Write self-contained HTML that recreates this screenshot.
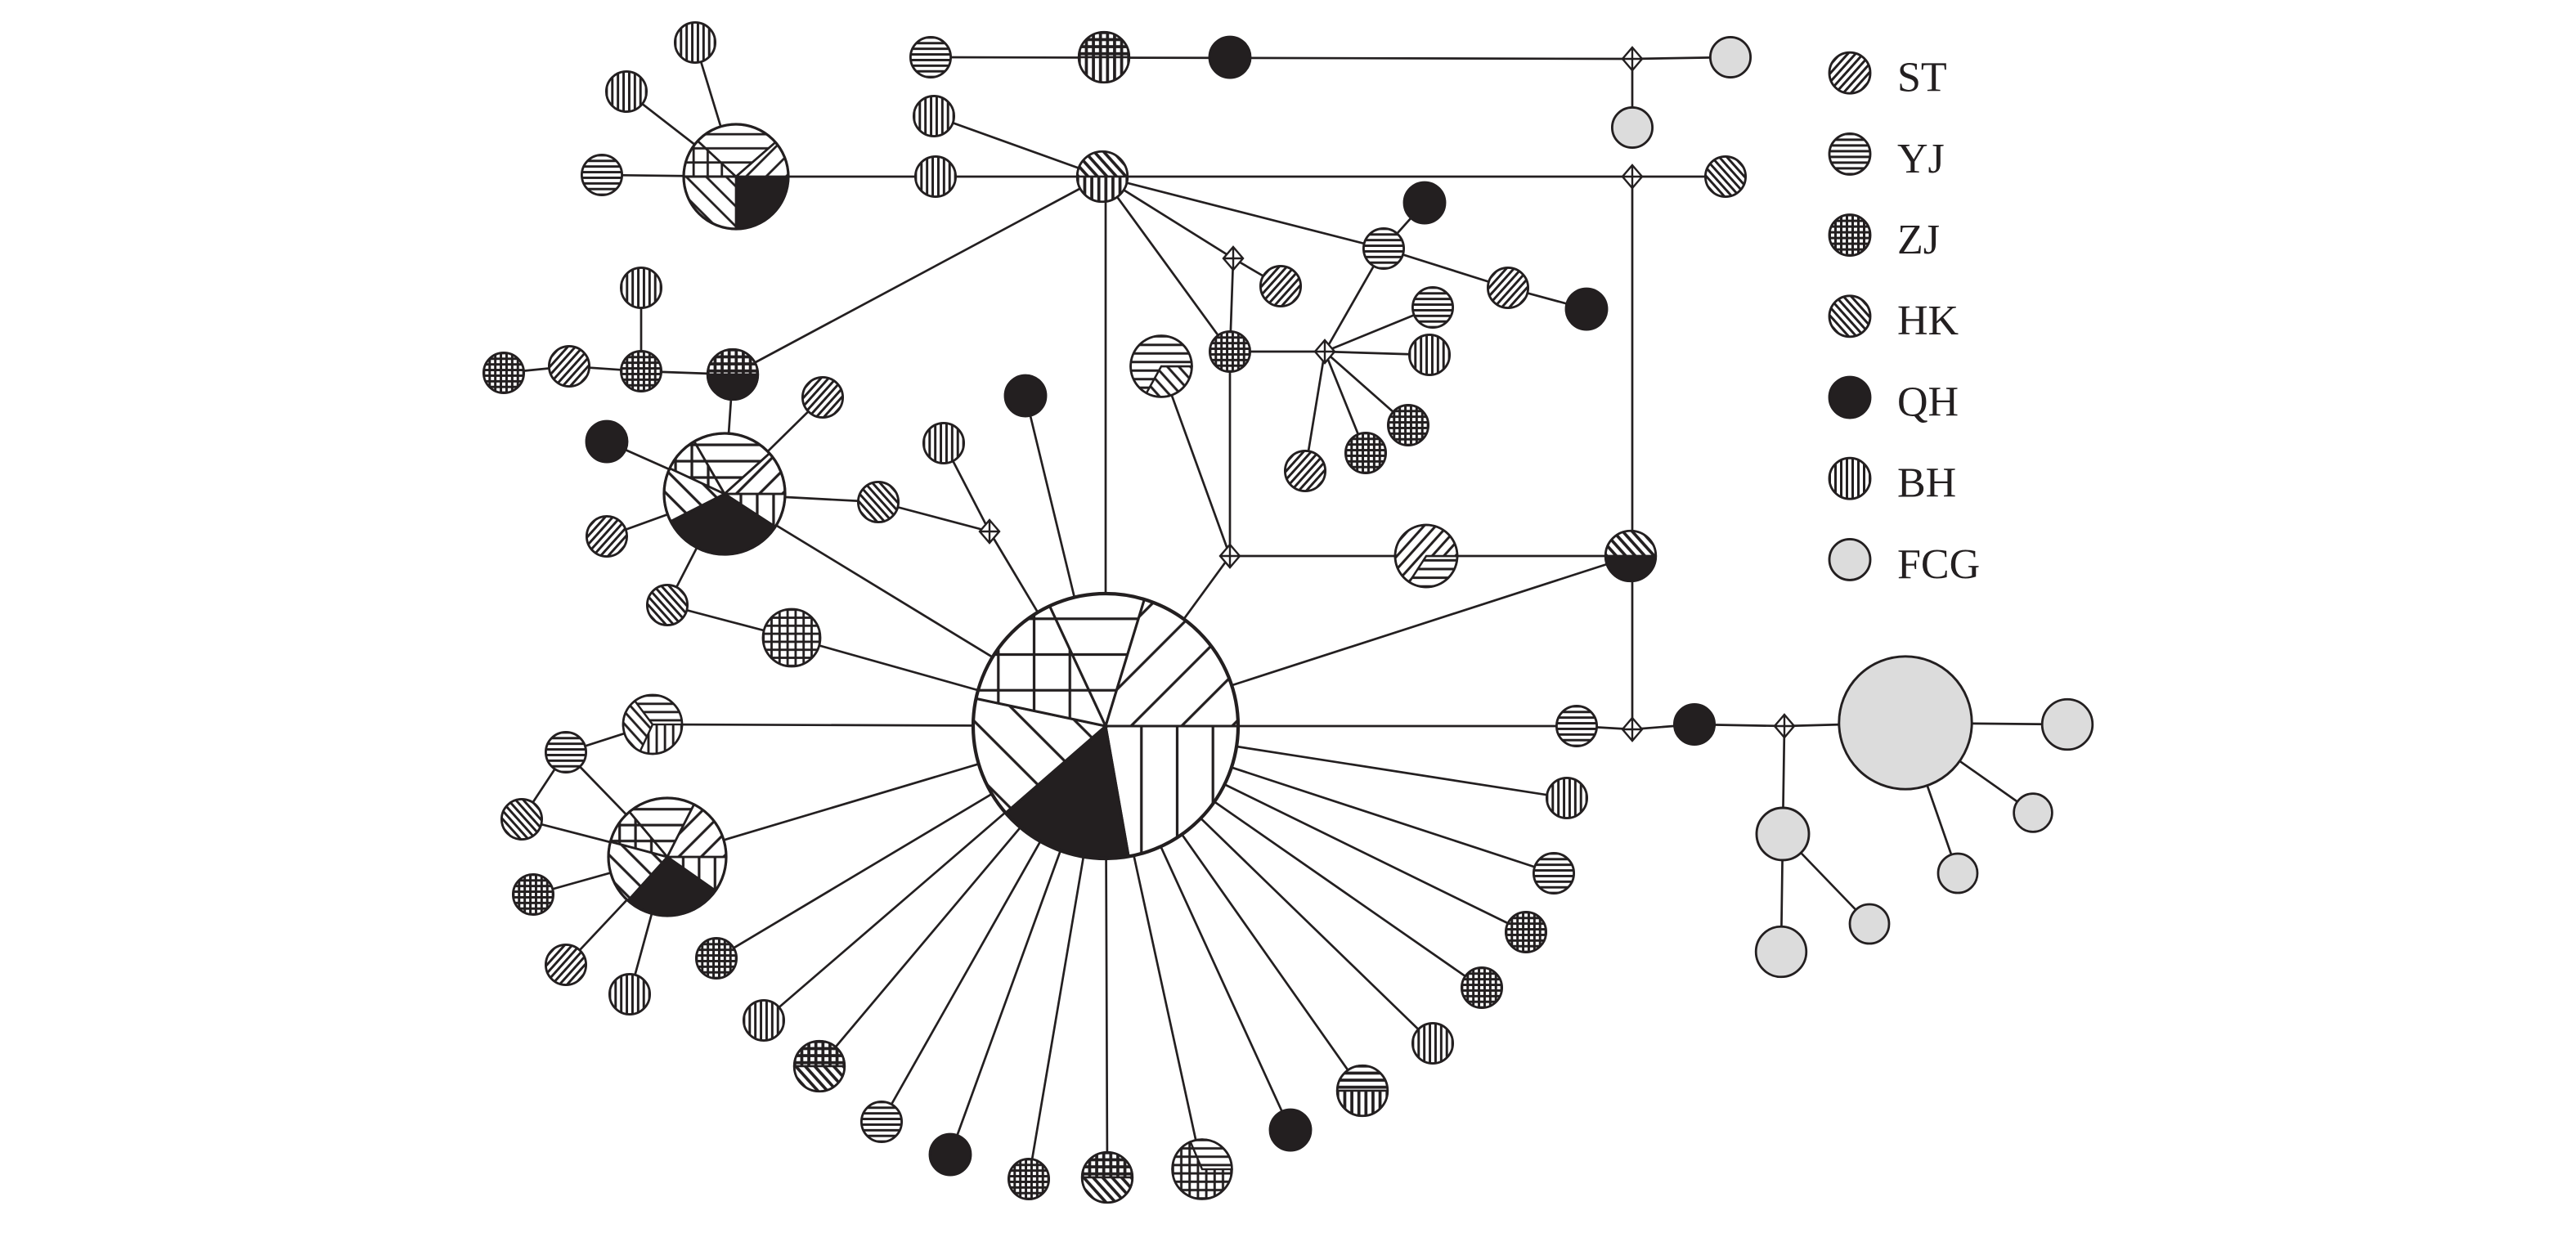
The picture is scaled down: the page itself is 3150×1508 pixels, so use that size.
<!DOCTYPE html>
<html><head><meta charset="utf-8">
<style>
html,body{margin:0;padding:0;background:#fff;}
svg{display:block;}
.n{stroke:#231f20;stroke-width:.115}
.w8{stroke-width:.09}
.w7{stroke-width:.08}
.w3{stroke-width:.036}
.q{fill:#231f20}
.f{fill:#dcdcdc}
.lg{font-family:"Liberation Serif",serif;font-size:26px;fill:#231f20}
</style></head>
<body>
<svg width="3150" height="1508" viewBox="0 0 1575 754" xmlns="http://www.w3.org/2000/svg">
<defs>
<!-- set a: small nodes -->
<pattern id="yja" patternUnits="userSpaceOnUse" x="-2" width="4" height=".28"><rect width="4" height=".28" fill="#fff"/><rect y=".08" width="4" height=".12" fill="#231f20"/></pattern>
<pattern id="sta" patternUnits="userSpaceOnUse" x="-2" width="4" height=".28" patternTransform="rotate(-48)"><rect width="4" height=".28" fill="#fff"/><rect y=".08" width="4" height=".12" fill="#231f20"/></pattern>
<pattern id="hka" patternUnits="userSpaceOnUse" x="-2" width="4" height=".28" patternTransform="rotate(48)"><rect width="4" height=".28" fill="#fff"/><rect y=".08" width="4" height=".12" fill="#231f20"/></pattern>
<pattern id="bha" patternUnits="userSpaceOnUse" y="-2" width=".28" height="4"><rect width=".28" height="4" fill="#fff"/><rect x=".08" width=".12" height="4" fill="#231f20"/></pattern>
<pattern id="zja" patternUnits="userSpaceOnUse" width=".28" height=".28"><rect width=".28" height=".28" fill="#fff"/><rect y=".08" width=".28" height=".12" fill="#231f20"/><rect x=".08" width=".12" height=".28" fill="#231f20"/></pattern>
<!-- set b: medium nodes -->
<pattern id="yjb" patternUnits="userSpaceOnUse" x="-2" width="4" height=".28"><rect width="4" height=".28" fill="#fff"/><rect y=".1" width="4" height=".08" fill="#231f20"/></pattern>
<pattern id="stb" patternUnits="userSpaceOnUse" x="-2" width="4" height=".28" patternTransform="rotate(-48)"><rect width="4" height=".28" fill="#fff"/><rect y=".1" width="4" height=".08" fill="#231f20"/></pattern>
<pattern id="hkb" patternUnits="userSpaceOnUse" x="-2" width="4" height=".28" patternTransform="rotate(48)"><rect width="4" height=".28" fill="#fff"/><rect y=".1" width="4" height=".08" fill="#231f20"/></pattern>
<pattern id="bhb" patternUnits="userSpaceOnUse" y="-2" width=".28" height="4"><rect width=".28" height="4" fill="#fff"/><rect x=".1" width=".08" height="4" fill="#231f20"/></pattern>
<pattern id="zjb" patternUnits="userSpaceOnUse" width=".28" height=".28"><rect width=".28" height=".28" fill="#fff"/><rect y=".1" width=".28" height=".08" fill="#231f20"/><rect x=".1" width=".08" height=".28" fill="#231f20"/></pattern>
<!-- set c: large pies -->
<pattern id="yjc" patternUnits="userSpaceOnUse" x="-2" y="-.135" width="4" height=".27"><rect width="4" height=".27" fill="#fff"/><rect y=".113" width="4" height=".044" fill="#231f20"/></pattern>
<pattern id="stc" patternUnits="userSpaceOnUse" x="-2" width="4" height=".27" patternTransform="rotate(-45)"><rect width="4" height=".27" fill="#fff"/><rect y=".113" width="4" height=".044" fill="#231f20"/></pattern>
<pattern id="hkc" patternUnits="userSpaceOnUse" x="-2" width="4" height=".27" patternTransform="rotate(45)"><rect width="4" height=".27" fill="#fff"/><rect y=".113" width="4" height=".044" fill="#231f20"/></pattern>
<pattern id="bhc" patternUnits="userSpaceOnUse" x="-.135" y="-2" width=".27" height="4"><rect width=".27" height="4" fill="#fff"/><rect x=".113" width=".044" height="4" fill="#231f20"/></pattern>
<pattern id="zjc" patternUnits="userSpaceOnUse" x="-.135" y="-.135" width=".27" height=".27"><rect width=".27" height=".27" fill="#fff"/><rect y=".113" width=".27" height=".044" fill="#231f20"/><rect x=".113" width=".044" height=".27" fill="#231f20"/></pattern>
<!-- set d: central pie -->
<pattern id="yjd" patternUnits="userSpaceOnUse" x="-2" y="-.135" width="4" height=".27"><rect width="4" height=".27" fill="#fff"/><rect y=".125" width="4" height=".02" fill="#231f20"/></pattern>
<pattern id="std" patternUnits="userSpaceOnUse" x="-2" width="4" height=".27" patternTransform="rotate(-45)"><rect width="4" height=".27" fill="#fff"/><rect y=".125" width="4" height=".02" fill="#231f20"/></pattern>
<pattern id="hkd" patternUnits="userSpaceOnUse" x="-2" width="4" height=".27" patternTransform="rotate(45)"><rect width="4" height=".27" fill="#fff"/><rect y=".125" width="4" height=".02" fill="#231f20"/></pattern>
<pattern id="bhd" patternUnits="userSpaceOnUse" x="-.135" y="-2" width=".27" height="4"><rect width=".27" height="4" fill="#fff"/><rect x=".125" width=".02" height="4" fill="#231f20"/></pattern>
<pattern id="zjd" patternUnits="userSpaceOnUse" x="-.135" y="-.135" width=".27" height=".27"><rect width=".27" height=".27" fill="#fff"/><rect y=".125" width=".27" height=".02" fill="#231f20"/><rect x=".125" width=".02" height=".27" fill="#231f20"/></pattern>
</defs>

<rect width="1575" height="754" fill="#fff"/>

<!-- connectors -->
<path fill="none" stroke="#231f20" stroke-width="1.35" d="
M569 35L998 36M998 36L1058 35M998 36L998 78
M571 71L674 108
M450 108L674 108
M674 108L998 108L1055 108
M998 108L998 446
M425 26L450 108M383 56L450 108M368 107L450 108
M676 108L676 444
M674 108L448 229
M674 108L754 158
M674 108L752 215
M674 108L846 152
M846 152L871 124
M846 152L922 176L970 189
M846 152L810 215
M754 158L783 175
M754 158L752 215L752 340
M752 215L810 215
M810 215L876 188M810 215L874 217M810 215L861 260M810 215L835 277M810 215L798 288
M710 224L752 340
M752 340L676 444M752 340L998 340
M998 340L676 444
M627 242L676 444
M577 271L605 325M537 307L605 325M605 325L676 444
M308 228L348 224L392 227L448 229M392 176L392 227
M448 229L443 302
M443 302L371 270M443 302L503 243M443 302L371 328M443 302L537 307M443 302L408 370M443 302L676 444
M408 370L484 390L676 444
M399 443L676 444
M346 460L399 443M346 460L319 501M346 460L408 524
M408 524L319 501M408 524L326 547M408 524L346 590M408 524L385 608M408 524L676 444
M676 444L438 586M676 444L467 624M676 444L501 652M676 444L539 686M676 444L581 706M676 444L629 721M676 444L677 720M676 444L735 715M676 444L789 691M676 444L833 667M676 444L876 638M676 444L906 604M676 444L933 570M676 444L950 534M676 444L958 488M676 444L964 444
M964 444L998 446L1036 443L1091 444L1165 442L1264 443
M1091 444L1090 510L1089 582M1090 510L1143 565
M1165 442L1243 497M1165 442L1197 534
"/>

<!-- diamonds (median vectors) -->
<g fill="#fff" stroke="#231f20" stroke-width="1.2">
<path d="M998 29L1004 36L998 43L992 36Z M998 29V43M992 36H1004"/>
<path d="M998 101L1004 108L998 115L992 108Z M998 101V115M992 108H1004"/>
<path d="M754 151L760 158L754 165L748 158Z M754 151V165M748 158H760"/>
<path d="M810 208L816 215L810 222L804 215Z M810 208V222M804 215H816"/>
<path d="M605 318L611 325L605 332L599 325Z M605 318V332M599 325H611"/>
<path d="M752 333L758 340L752 347L746 340Z M752 333V347M746 340H758"/>
<path d="M998 439L1004 446L998 453L992 446Z M998 439V453M992 446H1004"/>
<path d="M1091 437L1097 444L1091 451L1085 444Z M1091 437V451M1085 444H1097"/>
</g>

<!-- simple nodes -->
<circle class="n" r="1" transform="translate(569 35) scale(12.3)" fill="url(#yja)"/>
<circle class="n q" r="1" transform="translate(752 35) scale(12.5)"/>
<circle class="n f" r="1" transform="translate(1058 35) scale(12.3)"/>
<circle class="n f" r="1" transform="translate(998 78) scale(12.3)"/>
<circle class="n" r="1" transform="translate(571 71) scale(12.3)" fill="url(#bha)"/>
<circle class="n" r="1" transform="translate(572 108) scale(12.3)" fill="url(#bha)"/>
<circle class="n" r="1" transform="translate(1055 108) scale(12.3)" fill="url(#hka)"/>
<circle class="n" r="1" transform="translate(425 26) scale(12.3)" fill="url(#bha)"/>
<circle class="n" r="1" transform="translate(383 56) scale(12.3)" fill="url(#bha)"/>
<circle class="n" r="1" transform="translate(368 107) scale(12.3)" fill="url(#yja)"/>
<circle class="n q" r="1" transform="translate(871 124) scale(12.5)"/>
<circle class="n" r="1" transform="translate(846 152) scale(12.3)" fill="url(#yja)"/>
<circle class="n" r="1" transform="translate(922 176) scale(12.3)" fill="url(#sta)"/>
<circle class="n q" r="1" transform="translate(970 189) scale(12.5)"/>
<circle class="n" r="1" transform="translate(783 175) scale(12.3)" fill="url(#sta)"/>
<circle class="n" r="1" transform="translate(752 215) scale(12.3)" fill="url(#zja)"/>
<circle class="n" r="1" transform="translate(876 188) scale(12.3)" fill="url(#yja)"/>
<circle class="n" r="1" transform="translate(874 217) scale(12.3)" fill="url(#bha)"/>
<circle class="n" r="1" transform="translate(861 260) scale(12.3)" fill="url(#zja)"/>
<circle class="n" r="1" transform="translate(835 277) scale(12.3)" fill="url(#zja)"/>
<circle class="n" r="1" transform="translate(798 288) scale(12.3)" fill="url(#sta)"/>
<circle class="n q" r="1" transform="translate(627 242) scale(12.5)"/>
<circle class="n" r="1" transform="translate(577 271) scale(12.3)" fill="url(#bha)"/>
<circle class="n" r="1" transform="translate(392 176) scale(12.3)" fill="url(#bha)"/>
<circle class="n" r="1" transform="translate(308 228) scale(12.3)" fill="url(#zja)"/>
<circle class="n" r="1" transform="translate(348 224) scale(12.3)" fill="url(#sta)"/>
<circle class="n" r="1" transform="translate(392 227) scale(12.3)" fill="url(#zja)"/>
<circle class="n" r="1" transform="translate(503 243) scale(12.3)" fill="url(#sta)"/>
<circle class="n q" r="1" transform="translate(371 270) scale(12.5)"/>
<circle class="n" r="1" transform="translate(371 328) scale(12.3)" fill="url(#sta)"/>
<circle class="n" r="1" transform="translate(537 307) scale(12.3)" fill="url(#hka)"/>
<circle class="n" r="1" transform="translate(408 370) scale(12.3)" fill="url(#hka)"/>
<circle class="n w7" r="1" transform="translate(484 390) scale(17.5)" fill="url(#zjb)"/>
<circle class="n" r="1" transform="translate(346 460) scale(12.3)" fill="url(#yja)"/>
<circle class="n" r="1" transform="translate(319 501) scale(12.3)" fill="url(#hka)"/>
<circle class="n" r="1" transform="translate(326 547) scale(12.3)" fill="url(#zja)"/>
<circle class="n" r="1" transform="translate(346 590) scale(12.3)" fill="url(#sta)"/>
<circle class="n" r="1" transform="translate(385 608) scale(12.3)" fill="url(#bha)"/>
<circle class="n" r="1" transform="translate(438 586) scale(12.3)" fill="url(#zja)"/>
<circle class="n" r="1" transform="translate(467 624) scale(12.3)" fill="url(#bha)"/>
<circle class="n" r="1" transform="translate(539 686) scale(12.3)" fill="url(#yja)"/>
<circle class="n q" r="1" transform="translate(581 706) scale(12.5)"/>
<circle class="n" r="1" transform="translate(629 721) scale(12.3)" fill="url(#zja)"/>
<circle class="n q" r="1" transform="translate(789 691) scale(12.5)"/>
<circle class="n" r="1" transform="translate(876 638) scale(12.3)" fill="url(#bha)"/>
<circle class="n" r="1" transform="translate(906 604) scale(12.3)" fill="url(#zja)"/>
<circle class="n" r="1" transform="translate(933 570) scale(12.3)" fill="url(#zja)"/>
<circle class="n" r="1" transform="translate(950 534) scale(12.3)" fill="url(#yja)"/>
<circle class="n" r="1" transform="translate(958 488) scale(12.3)" fill="url(#bha)"/>
<circle class="n" r="1" transform="translate(964 444) scale(12.3)" fill="url(#yja)"/>
<circle class="n q" r="1" transform="translate(1036 443) scale(12.3)"/>
<circle class="n f w3" r="1" transform="translate(1165 442) scale(40.6)"/>
<circle class="n f w8" r="1" transform="translate(1264 443) scale(15.4)"/>
<circle class="n f" r="1" transform="translate(1243 497) scale(11.7)"/>
<circle class="n f" r="1" transform="translate(1197 534) scale(12)"/>
<circle class="n f w8" r="1" transform="translate(1090 510) scale(16)"/>
<circle class="n f" r="1" transform="translate(1143 565) scale(12)"/>
<circle class="n f w8" r="1" transform="translate(1089 582) scale(15.4)"/>

<!-- central pie -->
<g transform="translate(676 444) scale(81)" stroke="#231f20" stroke-width=".019">
<path fill="url(#bhd)" d="M0 0L1 0A1 1 0 0 1 .1736 .9848Z"/>
<path fill="#231f20" d="M0 0L.1736 .9848A1 1 0 0 1 -.7547 .6561Z"/>
<path fill="url(#hkd)" d="M0 0L-.7547 .6561A1 1 0 0 1 -.9781 -.2079Z"/>
<path fill="url(#zjd)" d="M0 0L-.9781 -.2079A1 1 0 0 1 -.4226 -.9063Z"/>
<path fill="url(#yjd)" d="M0 0L-.4226 -.9063A1 1 0 0 1 .2924 -.9563Z"/>
<path fill="url(#std)" d="M0 0L.2924 -.9563A1 1 0 0 1 1 0Z"/>
<circle r="1" fill="none" stroke-width=".026"/>
</g>

<!-- top-left pie -->
<g transform="translate(450 108) scale(32)" stroke="#231f20" stroke-width=".042">
<path fill="#231f20" d="M0 0L1 0A1 1 0 0 1 0 1Z"/>
<path fill="url(#hkc)" d="M0 0L0 1A1 1 0 0 1 -1 0Z"/>
<path fill="url(#zjc)" d="M0 0L-1 0A1 1 0 0 1 -.7314 -.682Z"/>
<path fill="url(#yjc)" d="M0 0L-.7314 -.682A1 1 0 0 1 .7547 -.6561Z"/>
<path fill="url(#stc)" d="M0 0L.7547 -.6561A1 1 0 0 1 1 0Z"/>
<circle r="1" fill="none" stroke-width=".05"/>
</g>

<!-- left-middle pie -->
<g transform="translate(443 302) scale(37)" stroke="#231f20" stroke-width=".038">
<path fill="url(#bhc)" d="M0 0L1 0A1 1 0 0 1 .8387 .5446Z"/>
<path fill="#231f20" d="M0 0L.8387 .5446A1 1 0 0 1 -.891 .454Z"/>
<path fill="url(#hkc)" d="M0 0L-.891 .454A1 1 0 0 1 -.9063 -.4226Z"/>
<path fill="url(#zjc)" d="M0 0L-.9063 -.4226A1 1 0 0 1 -.5 -.866Z"/>
<path fill="url(#yjc)" d="M0 0L-.5 -.866A1 1 0 0 1 .7431 -.6691Z"/>
<path fill="url(#stc)" d="M0 0L.7431 -.6691A1 1 0 0 1 1 0Z"/>
<circle r="1" fill="none" stroke-width=".044"/>
</g>

<!-- bottom-left pie -->
<g transform="translate(408 524) scale(36)" stroke="#231f20" stroke-width=".038">
<path fill="url(#bhc)" d="M0 0L1 0A1 1 0 0 1 .8192 .5736Z"/>
<path fill="#231f20" d="M0 0L.8192 .5736A1 1 0 0 1 -.6691 .7431Z"/>
<path fill="url(#hkc)" d="M0 0L-.6691 .7431A1 1 0 0 1 -.9659 -.2588Z"/>
<path fill="url(#zjc)" d="M0 0L-.9659 -.2588A1 1 0 0 1 -.6428 -.766Z"/>
<path fill="url(#yjc)" d="M0 0L-.6428 -.766A1 1 0 0 1 .454 -.891Z"/>
<path fill="url(#stc)" d="M0 0L.454 -.891A1 1 0 0 1 1 0Z"/>
<circle r="1" fill="none" stroke-width=".044"/>
</g>

<!-- half-split nodes -->
<g transform="translate(675 35) scale(15.4)" stroke="#231f20" stroke-width=".08">
<path fill="url(#zja)" d="M-1 0A1 1 0 0 1 1 0Z"/><path fill="url(#bha)" d="M1 0A1 1 0 0 1 -1 0Z"/>
<circle r="1" fill="none" stroke-width=".09"/></g>
<g transform="translate(674 108) scale(15.4)" stroke="#231f20" stroke-width=".08">
<path fill="url(#hka)" d="M-1 0A1 1 0 0 1 1 0Z"/><path fill="url(#bha)" d="M1 0A1 1 0 0 1 -1 0Z"/>
<circle r="1" fill="none" stroke-width=".09"/></g>
<g transform="translate(448 229) scale(15.4)" stroke="#231f20" stroke-width=".08">
<path fill="url(#zja)" d="M-1 0A1 1 0 0 1 1 0Z"/><path fill="#231f20" d="M1 0A1 1 0 0 1 -1 0Z"/>
<circle r="1" fill="none" stroke-width=".09"/></g>
<g transform="translate(997 340) scale(15.4)" stroke="#231f20" stroke-width=".08">
<path fill="url(#hka)" d="M-1 0A1 1 0 0 1 1 0Z"/><path fill="#231f20" d="M1 0A1 1 0 0 1 -1 0Z"/>
<circle r="1" fill="none" stroke-width=".09"/></g>
<g transform="translate(501 652) scale(15.4)" stroke="#231f20" stroke-width=".08">
<path fill="url(#zja)" d="M-1 0A1 1 0 0 1 1 0Z"/><path fill="url(#hka)" d="M1 0A1 1 0 0 1 -1 0Z"/>
<circle r="1" fill="none" stroke-width=".09"/></g>
<g transform="translate(677 720) scale(15.4)" stroke="#231f20" stroke-width=".08">
<path fill="url(#zja)" d="M-1 0A1 1 0 0 1 1 0Z"/><path fill="url(#hka)" d="M1 0A1 1 0 0 1 -1 0Z"/>
<circle r="1" fill="none" stroke-width=".09"/></g>
<g transform="translate(833 667) scale(15.4)" stroke="#231f20" stroke-width=".08">
<path fill="url(#yja)" d="M-1 0A1 1 0 0 1 1 0Z"/><path fill="url(#bha)" d="M1 0A1 1 0 0 1 -1 0Z"/>
<circle r="1" fill="none" stroke-width=".09"/></g>

<!-- medium mixed nodes -->
<g transform="translate(710 224) scale(18.7)" stroke="#231f20" stroke-width=".065">
<path fill="url(#hkb)" d="M0 0L1 0A1 1 0 0 1 -.4848 .8746Z"/>
<path fill="url(#yjb)" d="M0 0L-.4848 .8746A1 1 0 1 1 1 0Z"/>
<circle r="1" fill="none" stroke-width=".075"/></g>
<g transform="translate(872 340) scale(19)" stroke="#231f20" stroke-width=".065">
<path fill="url(#yjb)" d="M0 0L1 0A1 1 0 0 1 -.5446 .8387Z"/>
<path fill="url(#stb)" d="M0 0L-.5446 .8387A1 1 0 1 1 1 0Z"/>
<circle r="1" fill="none" stroke-width=".075"/></g>
<g transform="translate(399 443) scale(18)" stroke="#231f20" stroke-width=".065">
<path fill="url(#bhb)" d="M0 0L1 0A1 1 0 0 1 -.4226 .9063Z"/>
<path fill="url(#hkb)" d="M0 0L-.4226 .9063A1 1 0 0 1 -.6018 -.7986Z"/>
<path fill="url(#yjb)" d="M0 0L-.6018 -.7986A1 1 0 0 1 1 0Z"/>
<circle r="1" fill="none" stroke-width=".075"/></g>
<g transform="translate(735 715) scale(18.2)" stroke="#231f20" stroke-width=".065">
<path fill="url(#zjb)" d="M0 0L1 0A1 1 0 1 1 -.3907 -.9205Z"/>
<path fill="url(#yjb)" d="M0 0L-.3907 -.9205A1 1 0 0 1 1 0Z"/>
<circle r="1" fill="none" stroke-width=".075"/></g>

<!-- legend -->
<circle class="n" r="1" transform="translate(1131 44.6) scale(12.5)" fill="url(#sta)"/>
<circle class="n" r="1" transform="translate(1131 94.2) scale(12.5)" fill="url(#yja)"/>
<circle class="n" r="1" transform="translate(1131 143.8) scale(12.5)" fill="url(#zja)"/>
<circle class="n" r="1" transform="translate(1131 193.4) scale(12.5)" fill="url(#hka)"/>
<circle class="n q" r="1" transform="translate(1131 243) scale(12.5)"/>
<circle class="n" r="1" transform="translate(1131 292.6) scale(12.5)" fill="url(#bha)"/>
<circle class="n f" r="1" transform="translate(1131 342.2) scale(12.5)"/>
<text class="lg" x="1160" y="55.8">ST</text>
<text class="lg" x="1160" y="105.4">YJ</text>
<text class="lg" x="1160" y="155">ZJ</text>
<text class="lg" x="1160" y="204.6">HK</text>
<text class="lg" x="1160" y="254.2">QH</text>
<text class="lg" x="1160" y="303.8">BH</text>
<text class="lg" x="1160" y="353.4">FCG</text>
</svg>
</body></html>
